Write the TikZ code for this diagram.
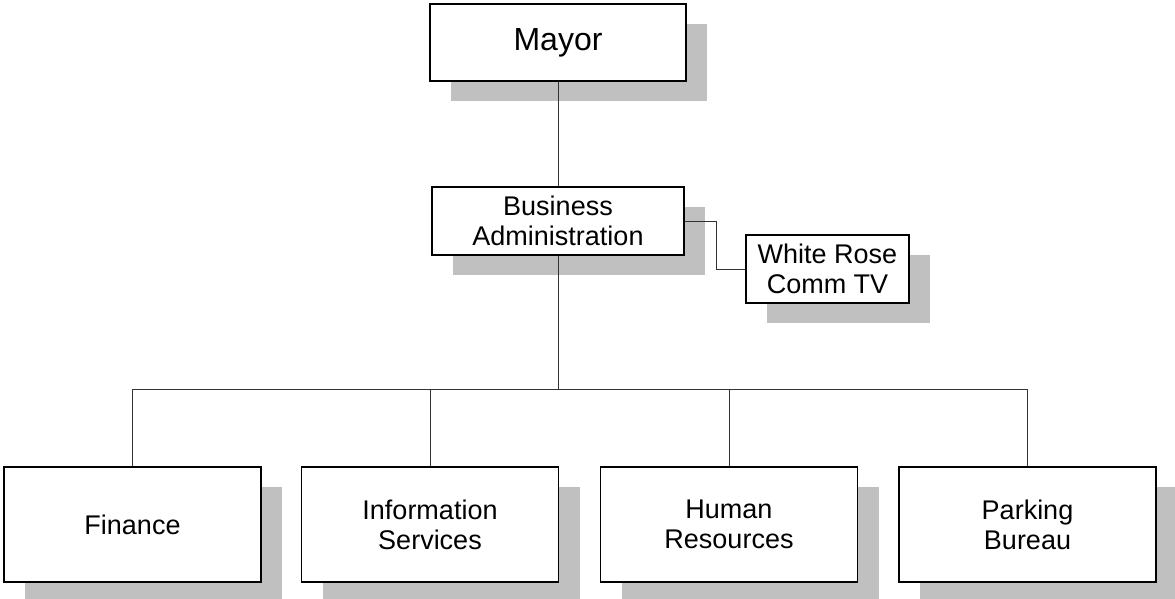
\documentclass[tikz,border=0pt]{standalone}
\usepackage{fontspec}
\setmainfont{Liberation Sans}
\usetikzlibrary{shadows}
\definecolor{shadowgray}{RGB}{192,192,192}
\tikzset{
	orgnode/.style = {rectangle, draw=black, line width=1.3pt, fill=white, align=center, inner sep=0pt,
		general shadow={fill=shadowgray, shadow xshift=21pt, shadow yshift=-20pt}},
	topbox/.style = {orgnode, minimum width=256pt, minimum height=77pt, font=\fontsize{32}{38}\selectfont},
	midbox/.style = {orgnode, minimum width=252pt, minimum height=68pt, font=\fontsize{27}{30}\selectfont},
	sidebox/.style = {orgnode, minimum width=163pt, minimum height=68pt, font=\fontsize{27}{30}\selectfont},
	deptbox/.style = {orgnode, minimum width=257pt, minimum height=115pt, font=\fontsize{27}{30}\selectfont},
	link/.style = {draw=black!80, line width=0.8pt}
}

\begin{document}
\begin{tikzpicture}[x=1pt, y=-1pt]
		\useasboundingbox (0,0) rectangle (1175,599);
		%定义组织结构各节点
		\node (mayor) [topbox] at (558,42.5) {Mayor};
		\node (busadmin) [midbox] at (558,221) {Business\\Administration};
		\node (wrctv) [sidebox] at (827.5,269) {White Rose\\Comm TV};
		\node (finance) [deptbox] at (132.5,524.5) {Finance};
		\node (infoserv) [deptbox] at (430,524.5) {Information\\Services};
		\node (humanres) [deptbox] at (729,524.5) {Human\\Resources};
		\node (parking) [deptbox] at (1027.5,524.5) {Parking\\Bureau};
		\coordinate (bus) at (558,389);

		%连接各节点
		\path [link](mayor) -- (busadmin);
		\path [link](busadmin.east) -- ++(32,0) |- (wrctv.west);
		\path [link](busadmin) -- (bus);
		\foreach \dept in {finance, infoserv, humanres, parking}
			\path [link](bus) -| (\dept.north);
		\end{tikzpicture}
\end{document}
